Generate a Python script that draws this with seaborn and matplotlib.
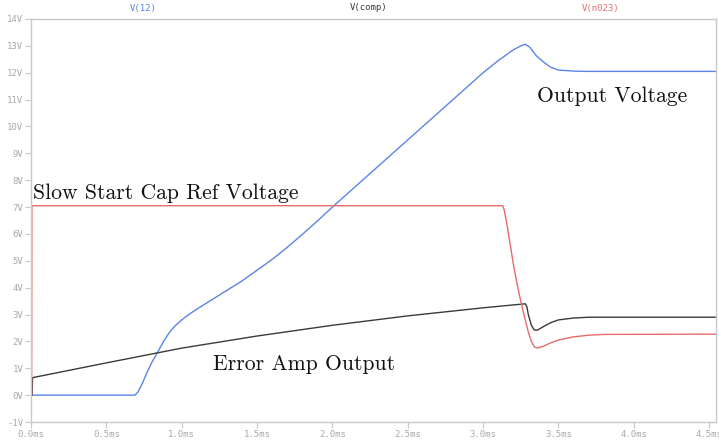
import matplotlib
matplotlib.use("Agg")
import matplotlib.pyplot as plt
import seaborn as sns
import pandas as pd

# Simulation traces (time in ms, voltage in V)
t_v12 = [0.0, 0.69, 0.71, 0.74, 0.77, 0.80, 0.84, 0.88, 0.92, 0.96, 1.00, 1.06,
         1.10, 1.20, 1.30, 1.40, 1.50, 1.60, 1.70, 1.80, 1.90, 2.00, 2.20, 2.40,
         2.60, 2.80, 3.00, 3.10, 3.20, 3.25, 3.28, 3.31, 3.35, 3.40, 3.45, 3.50,
         3.60, 3.70, 4.55]
v_v12 = [0.0, 0.0, 0.12, 0.45, 0.85, 1.2, 1.6, 2.0, 2.35, 2.6, 2.8, 3.05,
         3.2, 3.55, 3.9, 4.25, 4.65, 5.05, 5.5, 5.98, 6.48, 7.0, 8.0, 9.0,
         10.0, 11.0, 12.0, 12.45, 12.85, 13.0, 13.06, 12.95, 12.65, 12.4, 12.2, 12.1,
         12.06, 12.05, 12.05]

t_comp = [0.0, 0.008, 0.01, 0.5, 1.0, 1.5, 2.0, 2.5, 3.0, 3.28, 3.29, 3.30,
          3.32, 3.34, 3.36, 3.40, 3.45, 3.50, 3.60, 3.70, 4.55]
v_comp = [0.0, 0.0, 0.65, 1.2, 1.75, 2.2, 2.6, 2.95, 3.25, 3.4, 3.3, 3.0,
          2.6, 2.42, 2.42, 2.55, 2.7, 2.8, 2.87, 2.9, 2.9]

t_n023 = [0.0, 0.004, 0.006, 3.13, 3.14, 3.16, 3.18, 3.20, 3.22, 3.24, 3.26,
          3.28, 3.30, 3.32, 3.34, 3.36, 3.40, 3.45, 3.50, 3.60, 3.70, 3.80, 4.55]
v_n023 = [0.0, 0.0, 7.05, 7.05, 6.9, 6.3, 5.6, 4.9, 4.3, 3.75, 3.25,
          2.8, 2.35, 2.0, 1.8, 1.75, 1.82, 1.95, 2.05, 2.17, 2.23, 2.26, 2.27]

x_ticks = [0.0, 0.5, 1.0, 1.5, 2.0, 2.5, 3.0, 3.5, 4.0, 4.5]
x_tick_labels = ["0.0ms", "0.5ms", "1.0ms", "1.5ms", "2.0ms", "2.5ms",
                 "3.0ms", "3.5ms", "4.0ms", "4.5ms"]
y_ticks = list(range(-1, 15))
y_tick_labels = [f"{v}V" if v >= 0 else f"-{abs(v)}V" for v in y_ticks]

trace_names = ["V(12)", "V(comp)", "V(n023)"]
trace_colors = ["#5b84e6", "#3a3a3a", "#e86a6a"]

sns.set_theme(style="white")
plt.rcParams["font.family"] = ["DejaVu Sans"]

W, H = 719, 441
fig = plt.figure(figsize=(W / 100, H / 100), dpi=100)
fig.patch.set_facecolor("white")
ax = fig.add_axes([31 / W, (H - 422) / H, (716 - 31) / W, (422 - 19) / H])

frames = [
    pd.DataFrame({"t": t_v12, "v": v_v12, "trace": "V(12)"}),
    pd.DataFrame({"t": t_comp, "v": v_comp, "trace": "V(comp)"}),
    pd.DataFrame({"t": t_n023, "v": v_n023, "trace": "V(n023)"}),
]
for df, color in zip(frames, trace_colors):
    sns.lineplot(data=df, x="t", y="v", color=color, linewidth=1.0,
                 sort=False, estimator=None, ax=ax, legend=False)

ax.set_xlim(0, (716 - 31) / 150.7)
ax.set_ylim(-1, 14)
ax.set_xlabel("")
ax.set_ylabel("")

grid_gray = "#c8c8c8"
label_gray = "#a8a8a8"
for sp in ax.spines.values():
    sp.set_visible(True)
    sp.set_color(grid_gray)
    sp.set_linewidth(1.0)

ax.set_xticks(x_ticks)
ax.set_xticklabels(x_tick_labels)
ax.set_yticks(y_ticks)
ax.set_yticklabels(y_tick_labels)
ax.tick_params(axis="both", which="major", direction="out", length=4,
               width=0.8, color=grid_gray, labelcolor=label_gray,
               labelsize=6.5, pad=1.5, bottom=True, left=True)
for lab in ax.get_xticklabels() + ax.get_yticklabels():
    lab.set_family("DejaVu Sans Mono")

# Trace names above the plot
title_x = [143, 369, 601]
for name, color, px in zip(trace_names, trace_colors, title_x):
    fig.text(px / W, 1 - 8 / H, name, color=color, ha="center", va="center",
             fontsize=6.5, family="DejaVu Sans Mono")

# Annotations
serif = ["cmr10", "DejaVu Serif"]
ax.text(0.012, 7.3, "Slow Start Cap Ref Voltage", fontsize=15.6, family=serif,
        color="#111111", ha="left", va="baseline")
ax.text(3.36, 10.9, "Output Voltage", fontsize=15.6, family=serif,
        color="#111111", ha="left", va="baseline")
ax.text(1.21, 0.93, "Error Amp Output", fontsize=15.6, family=serif,
        color="#111111", ha="left", va="baseline")

fig.savefig("out.png", dpi=100, facecolor="white")
